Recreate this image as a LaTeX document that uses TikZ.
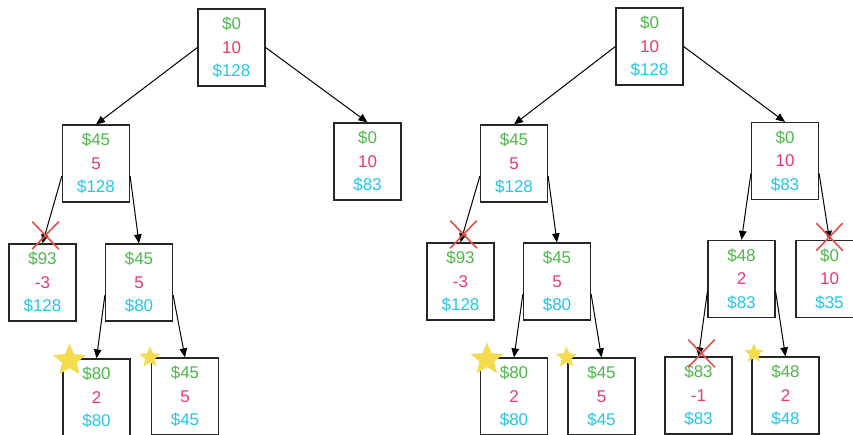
\documentclass[tikz,border=0pt]{standalone}
\usepackage{fontspec}
\setmainfont{Liberation Sans}
\usetikzlibrary{arrows.meta,shapes.geometric,shapes.misc}

\definecolor{vgreen}{HTML}{4DB848}
\definecolor{vpink}{HTML}{E83A6B}
\definecolor{vcyan}{HTML}{22C7E8}
\definecolor{vstar}{HTML}{F5DC4E}
\definecolor{vcross}{HTML}{E0504F}

% profit / capacity left / bound, one per line
\newcommand{\vals}[3]{\textcolor{vgreen}{\$#1}\\\textcolor{vpink}{#2}\\\textcolor{vcyan}{\$#3}}

\begin{document}
\begin{tikzpicture}[x=1pt,y=-1pt,
	box/.style={draw=black!85, line width=1.2pt, minimum width=67pt, minimum height=77pt,
		inner sep=0pt, align=center, font=\fontsize{17}{23.3}\selectfont},
	edge/.style={-{Triangle[length=9pt,width=7.5pt]}, line width=1pt},
	goal/.style={star, star points=5, star point ratio=2.2, fill=vstar, inner sep=0pt, minimum size=#1},
	cut/.style={cross out, draw=vcross, line width=1.6pt, inner sep=0pt, minimum width=25pt, minimum height=26pt}]
	\useasboundingbox (0,0) rectangle (853,435);
	\clip (0,0) rectangle (853,435);

	% first tree
	\node[box] (ra) at (231.5,47.5) {\vals{0}{10}{128}};
	\node[box] (rb) at (96,163.5) {\vals{45}{5}{128}};
	\node[box] (rc) at (367.5,161.5) {\vals{0}{10}{83}};
	\node[box] (rd) at (42.5,282.5) {\vals{93}{-3}{128}};
	\node[box] (re) at (139,282.5) {\vals{45}{5}{80}};
	\node[box] (rf) at (96.5,397.5) {\vals{80}{2}{80}};
	\node[box] (rg) at (185,396.5) {\vals{45}{5}{45}};
	\draw[edge] (ra.west) -- (rb.north);
	\draw[edge] (ra.east) -- (rc.north);
	\draw[edge] (rb.200) -- (rd.north);
	\draw[edge] (rb.340) -- (re.north);
	\draw[edge] (re.200) -- (rf.north);
	\draw[edge] (re.340) -- (rg.north);
	\node[cut] at ([shift={(3,-8)}]rd.north) {};
	\node[goal=34pt] at ([shift={(7,2)}]rf.north west) {};
	\node[goal=22pt] at ([shift={(-1,0)}]rg.north west) {};

	% second tree
	\node[box] (sa) at (649.5,46.5) {\vals{0}{10}{128}};
	\node[box] (sb) at (514,163.5) {\vals{45}{5}{128}};
	\node[box] (sc) at (785,161) {\vals{0}{10}{83}};
	\node[box] (sd) at (460.5,281.5) {\vals{93}{-3}{128}};
	\node[box] (se) at (557,281.5) {\vals{45}{5}{80}};
	\node[box] (sf) at (741.5,279) {\vals{48}{2}{83}};
	\node[box] (sg) at (829.5,279) {\vals{0}{10}{35}};
	\node[box] (sh) at (514,396.5) {\vals{80}{2}{80}};
	\node[box] (si) at (601.5,396.5) {\vals{45}{5}{45}};
	\node[box] (sj) at (698.5,395.5) {\vals{83}{-1}{83}};
	\node[box] (sk) at (785.5,395.5) {\vals{48}{2}{48}};
	\draw[edge] (sa.west) -- (sb.north);
	\draw[edge] (sa.east) -- (sc.north);
	\draw[edge] (sb.200) -- (sd.north);
	\draw[edge] (sb.340) -- (se.north);
	\draw[edge] (se.200) -- (sh.north);
	\draw[edge] (se.340) -- (si.north);
	\draw[edge] (sc.200) -- (sf.north);
	\draw[edge] (sc.340) -- (sg.north);
	\draw[edge] (sf.200) -- (sj.north);
	\draw[edge] (sf.340) -- (sk.north);
	\node[cut] at ([shift={(3,-8)}]sd.north) {};
	\node[cut] at ([shift={(0,-3)}]sg.north) {};
	\node[cut] at ([shift={(3,-3)}]sj.north) {};
	\node[goal=34pt] at ([shift={(7,2)}]sh.north west) {};
	\node[goal=22pt] at ([shift={(-1,0)}]si.north west) {};
	\node[goal=20pt] at ([shift={(2.5,-3)}]sk.north west) {};
\end{tikzpicture}
\end{document}
